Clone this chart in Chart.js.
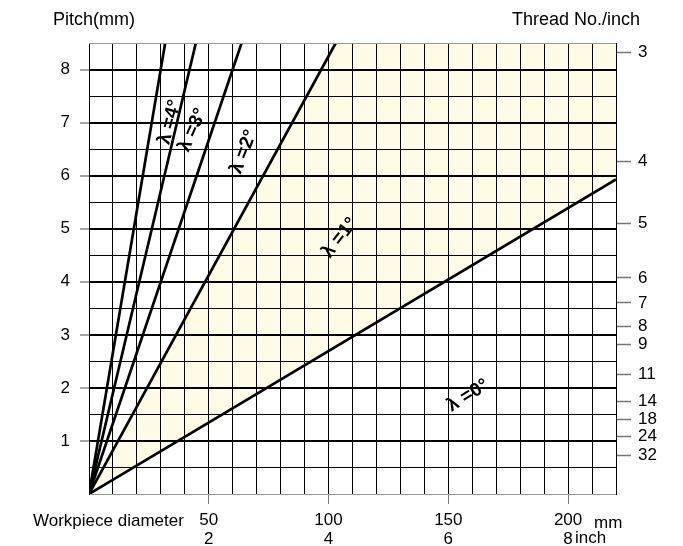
<!DOCTYPE html>
<html><head><meta charset="utf-8">
<script src="https://cdn.jsdelivr.net/npm/chart.js@4.4.1/dist/chart.umd.min.js"></script>
<style>html,body{margin:0;padding:0;background:#fff}canvas{display:block}</style>
</head><body>
<canvas id="c" width="683" height="546"></canvas>
<script>
const FONT = '"Liberation Sans", Arial, Helvetica, sans-serif';

// ---- data ----
const diameterTicks = [0,10,20,30,40,50,60,70,80,90,100,110,120,130,140,150,160,170,180,190,200,210,220];
const diameterLabelsMM = [50,100,150,200];
const diameterLabelsInch = ['2','4','6','8'];
const pitchTicks = [0,0.5,1,1.5,2,2.5,3,3.5,4,4.5,5,5.5,6,6.5,7,7.5,8];
const threadNo = [3,4,5,6,7,8,9,11,14,18,24,32];
const threadPitchPos = [8.33,6.27,5.094,4.072,3.601,3.160,2.815,2.250,1.748,1.403,1.088,0.725];
const leadAngleLabels = ['λ =0°','λ =1°','λ =2°','λ =3°','λ =4°'];
const lineEndDiameter = [220, 103.0, 63.7, 44.6, 31.8];
const lineEndPitch = [5.93, 8.5, 8.5, 8.5, 8.5];
const X_MAX = 220, Y_MAX = 8.5;

// label anchor (data coords) and rotation
const labelPos = [
  {x:158.2, y:1.855, rot:-32},
  {x:104.7, y:4.83, rot:-52},
  {x:64.6, y:6.45, rot:-69},
  {x:43.3, y:6.86, rot:-66},
  {x:33.7, y:7.01, rot:-75}
];

const lineDatasets = leadAngleLabels.map((lab,i)=>({
  label: lab,
  data: [{x:0,y:0},{x:lineEndDiameter[i], y:lineEndPitch[i]}],
  borderColor:'#000', borderWidth:2.7, pointRadius:0, fill:false, yAxisID:'y'
}));
// shaded band between λ=0° and λ=1° (dataset index 0, fills down to λ=0° line at index 1)
const shade = {
  label:'shade',
  data:[{x:0,y:0},{x:lineEndDiameter[1],y:Y_MAX},{x:X_MAX,y:Y_MAX}],
  borderWidth:0, borderColor:'rgba(0,0,0,0)', backgroundColor:'#fffbe4',
  pointRadius:0, fill:{target:1}, yAxisID:'y'
};

const annot = {
  id:'annot',
  afterDraw(chart){
    const {ctx, chartArea:a, scales:{x,y}} = chart;
    ctx.save();
    ctx.strokeStyle='#999'; ctx.lineWidth=1;
    ctx.beginPath(); ctx.moveTo(a.left, a.top+0.5); ctx.lineTo(a.right, a.top+0.5); ctx.stroke();
    ctx.fillStyle='#000'; ctx.textBaseline='middle'; ctx.textAlign='left';
    ctx.font='18px '+FONT;
    ctx.fillText('Pitch(mm)', 53, 20);
    ctx.fillText('Thread No./inch', 512, 20);
    ctx.font='17px '+FONT;
    ctx.fillText('Workpiece diameter', 33, 521);
    const px200 = x.getPixelForValue(200);
    ctx.fillText('mm', px200+26, 523);
    ctx.fillText('inch', px200+7, 538);
    ctx.font='bold 19px '+FONT; ctx.textAlign='center';
    labelPos.forEach((p,i)=>{
      ctx.save();
      ctx.translate(x.getPixelForValue(p.x), y.getPixelForValue(p.y));
      ctx.rotate(p.rot*Math.PI/180);
      ctx.fillText(leadAngleLabels[i],0,0);
      ctx.restore();
    });
    ctx.restore();
  }
};

const isInt = v => Math.abs(v - Math.round(v)) < 1e-9;

new Chart(document.getElementById('c'), {
  type:'line',
  data:{ datasets:[shade, ...lineDatasets] },
  options:{
    responsive:false, animation:false, events:[],
    layout:{padding:{top:43,left:0,right:0,bottom:0}},
    plugins:{ legend:{display:false}, tooltip:{enabled:false}, filler:{drawTime:'beforeDraw'} },
    scales:{
      x:{ type:'linear', min:0, max:X_MAX,
        afterBuildTicks: s=>{ s.ticks = diameterTicks.map(v=>({value:v})); },
        afterFit: s=>{ s.height = 52; },
        grid:{ color: c => (c.tick && (c.tick.value===0 || c.tick.value===X_MAX)) ? 'rgba(0,0,0,0)' : '#000',
               lineWidth:1, tickLength:10, tickWidth:1,
               tickColor: c => (c.tick && diameterLabelsMM.includes(c.tick.value)) ? '#777' : 'rgba(0,0,0,0)' },
        border:{color:'#999', width:1},
        ticks:{ autoSkip:false, maxRotation:0, padding:7, color:'#000',
                font:{family:FONT,size:17,lineHeight:1.1},
                callback: v => { const k = diameterLabelsMM.indexOf(v); return k<0 ? '' : [String(v), diameterLabelsInch[k]]; } }
      },
      y:{ type:'linear', position:'left', min:0, max:Y_MAX,
        afterBuildTicks: s=>{ s.ticks = pitchTicks.map(v=>({value:v})); },
        afterFit: s=>{ s.width = 89; },
        grid:{ color: c => (c.tick && c.tick.value===0) ? 'rgba(0,0,0,0)' : '#000',
               lineWidth: c => (c.tick && isInt(c.tick.value)) ? 2 : 1,
               tickLength:9, tickWidth:1.5,
               tickColor: c => (c.tick && isInt(c.tick.value) && c.tick.value>0) ? '#888' : 'rgba(0,0,0,0)' },
        border:{color:'#000', width:1},
        ticks:{ autoSkip:false, padding:10, color:'#000', font:{family:FONT,size:17},
                callback: v => (isInt(v) && v>0) ? String(v) : '' }
      },
      y2:{ type:'linear', position:'right', min:0, max:Y_MAX,
        afterBuildTicks: s=>{ s.ticks = threadPitchPos.map(v=>({value:v})); },
        afterFit: s=>{ s.width = 67; },
        grid:{ drawOnChartArea:false, tickLength:15, tickColor:'#777', tickWidth:1.5 },
        border:{color:'#000', width:1},
        ticks:{ autoSkip:false, padding:7, color:'#000', font:{family:FONT,size:17},
                callback: (v,i) => String(threadNo[i]) }
      }
    }
  },
  plugins:[annot]
});
</script>
</body></html>
